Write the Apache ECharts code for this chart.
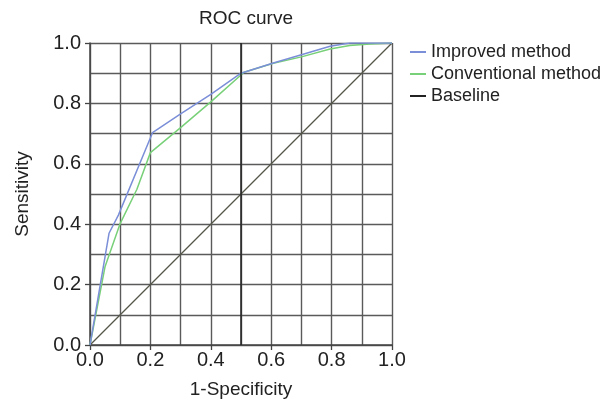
<!DOCTYPE html>
<html>
<head>
<meta charset="utf-8">
<script src="https://cdn.jsdelivr.net/npm/echarts@6/dist/echarts.min.js"></script>
<style>
  html, body { margin: 0; padding: 0; background: #fff; }
  #chart { width: 606px; height: 401px; }
</style>
</head>
<body>
<div id="chart"></div>
<script>
// ROC curve data
const improvedX = [0, 0.063, 0.094, 0.207, 0.3, 0.4, 0.5, 0.607, 0.7, 0.795, 0.86, 1]
const improvedY = [0, 0.37, 0.43, 0.703, 0.765, 0.83, 0.9, 0.934, 0.961, 0.989, 1.0, 1.0]
const conventionalX = [0, 0.05, 0.099, 0.155, 0.2, 0.3, 0.4, 0.51, 0.607, 0.7, 0.795, 0.86, 0.927, 1]
const conventionalY = [0, 0.26, 0.40, 0.515, 0.637, 0.72, 0.805, 0.903, 0.933, 0.954, 0.98, 0.992, 0.997, 1]
const baselineX = [0, 1]
const baselineY = [0, 1]
const darkGridX = [0.5]

const zip = (xs, ys) => xs.map((x, i) => [x, ys[i]])

const font = 'Liberation Sans, Arial, Helvetica, sans-serif'
const gridGray = '#5a5a5a'
const gridLine = { color: gridGray, width: 1.4 }

const chart = echarts.init(document.getElementById('chart'), null, { renderer: 'canvas' })

// major ticks every 0.2, grid every 0.1 (minor split lines)
const axisCommon = {
  type: 'value',
  min: 0,
  max: 1,
  interval: 0.2,
  axisLine: { show: true, lineStyle: { color: '#444', width: 1.5 } },
  axisTick: { show: true, length: 5, lineStyle: { color: '#444', width: 1.3 } },
  minorTick: { show: false, splitNumber: 2 },
  splitLine: { show: true, lineStyle: gridLine },
  minorSplitLine: { show: true, lineStyle: gridLine },
  axisLabel: {
    formatter: v => v.toFixed(1),
    color: '#222',
    fontFamily: font,
    fontSize: 20
  },
  nameLocation: 'middle',
  nameTextStyle: { color: '#222', fontFamily: font, fontSize: 19 }
}

const option = {
  backgroundColor: '#fff',
  animation: false,
  title: {
    text: 'ROC curve',
    left: 241,
    top: 4,
    textAlign: 'center',
    textStyle: { color: '#222', fontFamily: font, fontSize: 19, fontWeight: 'normal' }
  },
  legend: {
    orient: 'vertical',
    left: 405,
    top: 38,
    itemGap: 4,
    itemWidth: 16,
    itemHeight: 2,
    icon: 'rect',
    textStyle: { color: '#222', fontFamily: font, fontSize: 18, lineHeight: 18 },
    data: ['Improved method', 'Conventional method', 'Baseline']
  },
  grid: { left: 90, top: 43, width: 302, height: 302, containLabel: false, outerBoundsMode: 'none' },
  xAxis: Object.assign({}, axisCommon, {
    name: '1-Specificity',
    nameGap: 35,
    axisLabel: Object.assign({}, axisCommon.axisLabel, { margin: 5 })
  }),
  yAxis: Object.assign({}, axisCommon, {
    name: 'Sensitivity',
    nameGap: 58,
    axisLabel: Object.assign({}, axisCommon.axisLabel, { margin: 9 })
  }),
  series: [
    {
      name: 'Improved method',
      type: 'line',
      data: zip(improvedX, improvedY),
      showSymbol: false,
      symbol: 'none',
      z: 4,
      itemStyle: { color: '#7b8ed8' },
      lineStyle: { color: '#7b8ed8', width: 1.5 }
    },
    {
      name: 'Conventional method',
      type: 'line',
      data: zip(conventionalX, conventionalY),
      showSymbol: false,
      symbol: 'none',
      z: 3,
      itemStyle: { color: '#78d078' },
      lineStyle: { color: '#78d078', width: 1.5 }
    },
    {
      name: 'Baseline',
      type: 'line',
      data: zip(baselineX, baselineY),
      showSymbol: false,
      symbol: 'none',
      z: 2,
      itemStyle: { color: '#222' },
      lineStyle: { color: '#55554a', width: 1.3 },
      // darker vertical grid line at 0.5
      markLine: {
        silent: true,
        symbol: 'none',
        label: { show: false },
        lineStyle: { color: '#222', width: 1.5, type: 'solid' },
        data: darkGridX.map(x => ({ xAxis: x }))
      }
    }
  ]
}

chart.setOption(option)
</script>
</body>
</html>
